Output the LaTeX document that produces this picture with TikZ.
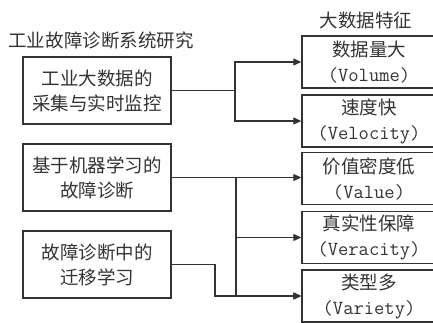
\documentclass[tikz,border=0pt]{standalone}
\usepackage{fontspec}
\setmainfont{Noto Sans CJK SC}
\setmonofont{Latin Modern Mono}
\usetikzlibrary{arrows.meta}
\definecolor{ink}{gray}{0.2}
\newcommand{\monotxt}[1]{{\fontsize{20}{25}\selectfont\ttfamily #1}}
\begin{document}
\begin{tikzpicture}[x=1pt,y=-1pt,
  txt/.style={font=\fontsize{18.5}{25}\selectfont, text=ink, align=center, inner sep=0pt},
  lbox/.style={txt, draw=ink, line width=1.4pt, minimum width=148pt, minimum height=67pt},
  rbox/.style={txt, draw=ink, line width=1.4pt, minimum width=134pt, minimum height=52pt},
  conn/.style={draw=ink, line width=1.1pt},
  arr/.style={conn, -{Triangle[length=8pt,width=7pt]}}]
\useasboundingbox (0,0) rectangle (433,322);
\clip (0,0) rectangle (433,322);
\node[txt] (t1) at (101,40) {工业故障诊断系统研究};
\node[txt] (t2) at (366,20) {大数据特征};
\node[lbox] (b1) at (97,90.5) {工业大数据的\\采集与实时监控};
\node[lbox] (b2) at (97,177.5) {基于机器学习的\\故障诊断};
\node[lbox] (b3) at (97,264.5) {故障诊断中的\\迁移学习};
\node[rbox] (r1) at (369,62) {数据量大\\\monotxt{(Volume)}};
\node[rbox] (r2) at (369,121) {速度快\\\monotxt{(Velocity)}};
\node[rbox] (r3) at (369,178.5) {价值密度低\\\monotxt{(Value)}};
\node[rbox] (r4) at (369,237.5) {真实性保障\\\monotxt{(Veracity)}};
\node[rbox] (r5) at (369,296) {类型多\\\monotxt{(Variety)}};
\coordinate (j1) at (235,90.5);
\coordinate (j2) at (236,177.5);
\coordinate (j3) at (215,264.5);
\draw[conn] (b1.east) -- (j1);
\draw[arr] (j1) |- (r1.west);
\draw[arr] (j1) |- (r2.west);
\draw[arr] (b2.east) -- (b2.east -| r3.west);
\draw[arr] (j2) |- (r4.west);
\draw[arr] (j2) |- (r5.west);
\draw[arr] (b3.east) -- (j3) |- (r5.west);
\end{tikzpicture}
\end{document}
